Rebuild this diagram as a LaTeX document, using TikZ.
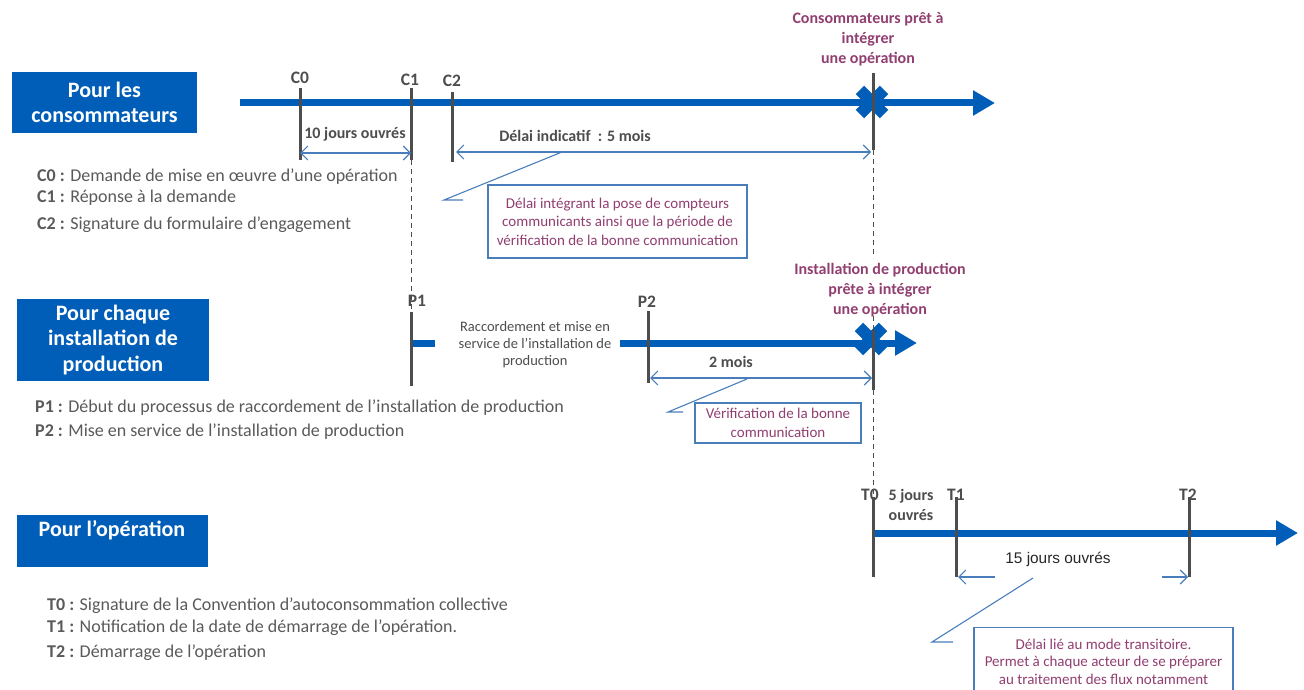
\documentclass[tikz,border=0pt]{standalone}
\usepackage{fontspec}
\setmainfont{Carlito}
\newfontfamily\arialfont{Liberation Sans}
\usetikzlibrary{arrows.meta}

\definecolor{boxblue}{RGB}{0,94,184}
\definecolor{tickgray}{RGB}{77,77,77}
\definecolor{textgray}{RGB}{90,90,90}
\definecolor{dimblue}{RGB}{74,126,187}
\definecolor{mauve}{RGB}{145,62,112}

\tikzset{
  titlebox/.style={fill=boxblue, text=white, align=center, inner sep=0pt,
    font=\fontsize{22}{25.5}\selectfont\bfseries},
  bluebar/.style={boxblue, line width=7pt, -{Triangle[length=22pt,width=24pt]}},
  bluestub/.style={boxblue, line width=7pt},
  tickline/.style={tickgray, line width=3pt},
  ticklabel/.style={text=tickgray, inner sep=0pt, font=\fontsize{17.5}{20}\selectfont\bfseries},
  dimarrow/.style={dimblue, line width=1.1pt,
    {Straight Barb[length=7pt,width=14pt]}-{Straight Barb[length=7pt,width=14pt]}},
  halfarrow/.style={dimblue, line width=1.1pt, -{Straight Barb[length=7pt,width=14pt]}},
  leader/.style={dimblue, line width=1.1pt},
  dimlabel/.style={text=tickgray, inner sep=0pt, align=center,
    font=\fontsize{16}{20}\selectfont\bfseries},
  guide/.style={tickgray, line width=0.9pt, dash pattern=on 5pt off 4pt},
  callout/.style={draw=dimblue, line width=1.2pt, text=mauve, align=center, inner sep=0pt,
    font=\fontsize{15}{18.5}\selectfont},
  ready/.style={text=mauve, align=center, inner sep=0pt,
    font=\fontsize{16}{20}\selectfont\bfseries},
  legend/.style={anchor=west, text=textgray, inner sep=0pt, font=\fontsize{18}{21}\selectfont},
}

\begin{document}
\begin{tikzpicture}[x=1pt,y=-1pt]
\clip (0,0) rectangle (1304,690);
\def\jalon#1#2#3#4{
\coordinate (#1-haut) at (#2,#3);
\coordinate (#1-bas) at (#2,#4);
}
\def\croix#1{
\fill[boxblue, shift={(#1)}, rotate=45] (-6,-17) -- (6,-17) -- (6,-6) -- (17,-6) -- (17,6) -- (6,6)
  -- (6,17) -- (-6,17) -- (-6,6) -- (-17,6) -- (-17,-6) -- (-6,-6) -- cycle;
}

% titres
\node[titlebox, minimum width=185, minimum height=61] (boxC) at (104.5,102.5) {Pour les\\consommateurs};
\node[titlebox, minimum width=192, minimum height=82] (boxP) at (113,340) {Pour chaque\\installation de\\production};
\node[titlebox, minimum width=191, minimum height=52] (boxT) at (112.5,541) {};
\node[text=white, font=\fontsize{22}{25.5}\selectfont\bfseries] (titleT) at (112,530) {Pour l’opération};

% jalons
\jalon{c0}{300}{88}{160}
\jalon{c1}{411}{88}{160}
\jalon{c2}{452}{92}{162}
\jalon{rc}{873}{73}{150}
\jalon{p1}{411}{312}{386}
\jalon{p2}{648}{311}{383}
\jalon{rp}{873}{330}{390}
\jalon{t0}{873}{497}{577}
\jalon{t1}{956}{497}{577}
\jalon{t2}{1189}{497}{577}

% axes
\coordinate (axeC-deb) at (240,103);
\coordinate (axeC-fin) at (995,103);
\coordinate (axeP-deb) at (411,343);
\coordinate (axeP-cut) at (435,343);
\coordinate (axeP-rep) at (620,343);
\coordinate (axeP-fin) at (917,343);
\coordinate (axeT-deb) at (873,533);
\coordinate (axeT-fin) at (1298,533);
\coordinate (xC) at (872,102);
\coordinate (xP) at (871,339);

\draw[bluebar] (axeC-deb) -- (axeC-fin);
\draw[bluestub] (axeP-deb) -- (axeP-cut);
\draw[bluebar] (axeP-rep) -- (axeP-fin);
\draw[bluebar] (axeT-deb) -- (axeT-fin);
\croix{xC}
\croix{xP}

\foreach \j in {c0,c1,c2,rc,p1,p2,rp,t0,t1,t2}
  \draw[tickline] (\j-haut) -- (\j-bas);

\draw[guide] (c1-bas) -- (p1-haut);
\draw[guide] (rc-bas) -- (873,258);
\draw[guide] (873,316) -- (rp-haut);
\draw[guide] (rp-bas) -- (t0-haut);

\node[ticklabel] (lc0) at (300,78) {C0};
\node[ticklabel] (lc1) at (410,80) {C1};
\node[ticklabel] (lc2) at (452,81) {C2};
\node[ticklabel] (lp1) at (417,301) {P1};
\node[ticklabel] (lp2) at (647,302) {P2};
\node[ticklabel] (lt0) at (870,495) {T0};
\node[ticklabel] (lt1) at (956,495) {T1};
\node[ticklabel] (lt2) at (1188,495) {T2};

\node[ready] (readyC) at (868,39) {Consommateurs prêt à\\intégrer\\une opération};
\node[ready] (readyP) at (880,290) {Installation de production\\prête à intégrer\\une opération};

% durees
\coordinate (d10a) at (300,153);
\coordinate (d10b) at (411,153);
\coordinate (d5a) at (456,152);
\coordinate (d5b) at (871,152);
\coordinate (d2a) at (650,378);
\coordinate (d2b) at (872,378);
\coordinate (d15a) at (995,577);
\coordinate (d15b) at (958,577);
\coordinate (d15c) at (1162,577);
\coordinate (d15d) at (1188,577);
\draw[dimarrow] (d10a) -- (d10b);
\draw[dimarrow] (d5a) -- (d5b);
\draw[dimarrow] (d2a) -- (d2b);
\draw[halfarrow] (d15a) -- (d15b);
\draw[halfarrow] (d15c) -- (d15d);

\node[dimlabel] (l10) at (355,134) {10 jours ouvrés};
\node[dimlabel] (l5) at (575,136) {Délai indicatif~~: 5 mois};
\node[dimlabel] (l2) at (731,362) {2 mois};
\node[dimlabel] (l5j) at (911,505) {5 jours\\ouvrés};
\node[text=black!85, inner sep=0pt, font=\arialfont\fontsize{15.4}{18}\selectfont] (l15) at (1058,559) {15 jours ouvrés};
\node[text=tickgray, align=center, inner sep=0pt, font=\fontsize{14.5}{17}\selectfont] (raccord) at (535,345)
  {Raccordement et mise en\\service de l’installation de\\production};

% bulles
\node[callout, minimum width=259, minimum height=73] (bulleC) at (617.5,221.5)
  {Délai intégrant la pose de compteurs\\communicants ainsi que la période de\\vérification de la bonne communication};
\node[callout, minimum width=166, minimum height=40] (bulleP) at (778,423)
  {Vérification de la bonne\\communication};
\node[callout, minimum width=259, minimum height=68, anchor=north, font=\fontsize{15}{17.5}\selectfont] (bulleT) at (1103.5,627)
  {Délai lié au mode transitoire.\\Permet à chaque acteur de se préparer\\au traitement des flux notamment};

\coordinate (fC1) at (562,152);
\coordinate (fC2) at (444,200);
\coordinate (fC3) at (463,200);
\coordinate (fP1) at (747,379);
\coordinate (fP2) at (668,412);
\coordinate (fP3) at (683,412);
\coordinate (fT1) at (1033,578);
\coordinate (fT2) at (932,642);
\coordinate (fT3) at (953,642);
\draw[leader] (fC1) -- (fC2) -- (fC3);
\draw[leader] (fP1) -- (fP2) -- (fP3);
\draw[leader] (fT1) -- (fT2) -- (fT3);

% legendes
\node[legend] (legC0) at (37,177) {\textbf{C0 :} Demande de mise en œuvre d’une opération};
\node[legend] (legC1) at (37,198) {\textbf{C1 :} Réponse à la demande};
\node[legend] (legC2) at (37,225) {\textbf{C2 :} Signature du formulaire d’engagement};
\node[legend] (legP1) at (35,408) {\textbf{P1 :} Début du processus de raccordement de l’installation de production};
\node[legend] (legP2) at (35,432) {\textbf{P2 :} Mise en service de l’installation de production};
\node[legend] (legT0) at (47,606) {\textbf{T0 :} Signature de la Convention d’autoconsommation collective};
\node[legend] (legT1) at (47,628) {\textbf{T1 :} Notification de la date de démarrage de l’opération.};
\node[legend] (legT2) at (47,653) {\textbf{T2 :} Démarrage de l’opération};
\end{tikzpicture}
\end{document}
